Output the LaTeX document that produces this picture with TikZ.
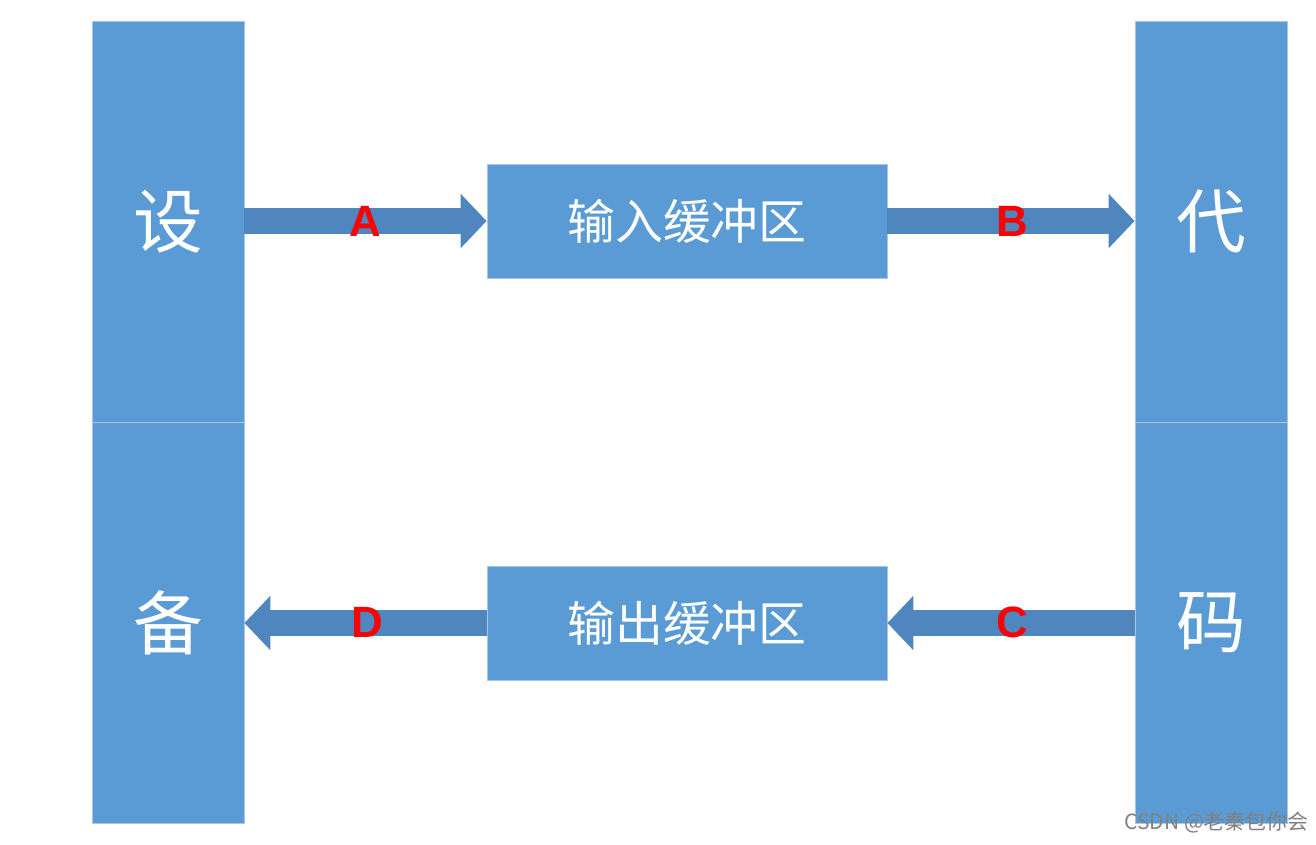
\documentclass[tikz,border=0pt]{standalone}
\usepackage{fontspec}
\newfontfamily\cjk{Noto Sans CJK SC}
\setsansfont{Liberation Sans}
\usetikzlibrary{arrows.meta}
\definecolor{boxblue}{HTML}{5B9BD5}
\definecolor{arrblue}{HTML}{4F86BE}
\definecolor{edgeblue}{HTML}{A9C6E8}
\begin{document}
\begin{tikzpicture}[x=1bp,y=-1bp,
  col/.style={draw=edgeblue,fill=boxblue,line width=0.8bp,minimum width=152bp,minimum height=401bp,inner sep=0,text=white,font=\cjk\fontsize{70}{70}\selectfont},
  buf/.style={draw=edgeblue,fill=boxblue,line width=0.8bp,minimum width=400bp,minimum height=114bp,inner sep=0,text=white,font=\cjk\fontsize{48}{48}\selectfont},
  fat/.style={draw=arrblue,line width=26bp,-{Triangle[width=53bp,length=26bp]}},
  lab/.style={text=red,font=\sffamily\bfseries\fontsize{44}{44}\selectfont}]
\useasboundingbox (0,0) rectangle (1316,844);
\node[col] (s) at (168,221.5) {设};
\node[col] (b) at (168,622.5) {备};
\node[col] (d) at (1211,221.5) {代};
\node[col] (m) at (1211,622.5) {码};
\node[buf] (in) at (687,221) {输入缓冲区};
\node[buf] (out) at (687,623) {输出缓冲区};
\draw[fat] (s.east|-in.west) -- (in.west);
\draw[fat] (in.east) -- (d.west|-in.east);
\draw[fat] (m.west|-out.east) -- (out.east);
\draw[fat] (out.west) -- (b.east|-out.west);
\node[lab] (A) at (365,221) {A};
\node[lab] (B) at (1012,221) {B};
\node[lab] (C) at (1012,622) {C};
\node[lab] (D) at (367,622) {D};
\node[text=gray,font=\cjk\fontsize{21}{21}\selectfont,anchor=east] (w) at (1312,822) {CSDN @老秦包你会};
\end{tikzpicture}
\end{document}
